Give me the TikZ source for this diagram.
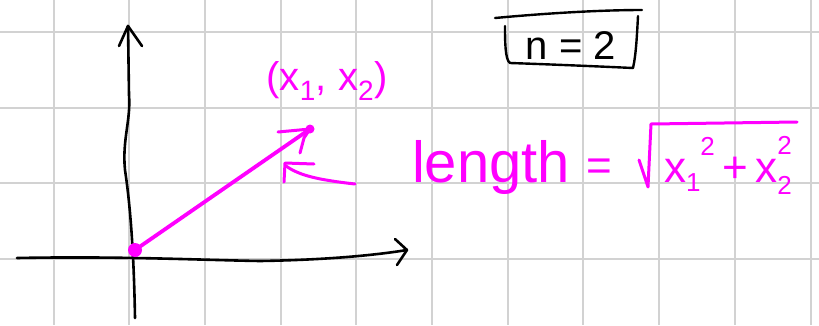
\documentclass[tikz,border=0pt]{standalone}
\usepackage{fontspec}
\setmainfont{Liberation Sans}
\definecolor{mag}{HTML}{FF00FF}
\definecolor{gridc}{HTML}{D2D2D2}
\newcommand{\scr}[1]{{\fontsize{26}{26}\selectfont #1}}
\begin{document}
\begin{tikzpicture}[x=1pt,y=-1pt,
  axis/.style={black,line width=2.6pt,line cap=round,line join=round},
  vec/.style={mag,line width=3.8pt,line cap=round,line join=round},
  ink/.style={inner sep=0pt,outer sep=0pt},
  lbl/.style={ink,text=mag}]
\useasboundingbox (0,0) rectangle (819,325);
\fill[white] (0,0) rectangle (819,325);
% grid
\foreach \gx in {53.5,129.2,204.9,280.6,356.3,432,507.7,583.4,659.1,734.8,810.5}
  \draw[gridc,line width=2pt] (\gx,0) -- (\gx,325);
\foreach \gy in {32,107.5,183,258.5}
  \draw[gridc,line width=2pt] (0,\gy) -- (819,\gy);
% axes
\coordinate (ytop) at (128,26);
\coordinate (ybot) at (135,318);
\coordinate (xl) at (17,258);
\coordinate (xr) at (407,250);
\draw[axis] (ybot) .. controls (134,260) and (131,210) .. (125,170)
  .. controls (122,140) and (131,120) .. (129,95) -- (ytop);
\draw[axis] (119,46) -- (ytop) -- (142,46);
\draw[axis] (xl) .. controls (120,256) and (200,260) .. (260,261)
  .. controls (320,260) and (370,256) .. (xr);
\draw[axis] (395,239) -- (xr) -- (397,265);
% vector
\coordinate (O) at (135,250);
\coordinate (P) at (310,129);
\draw[vec] (O) -- (P);
\fill[mag] (O) circle (7);
\fill[mag] (P) circle (4.5);
\draw[vec,line width=3pt] (278,132) -- (P);
\draw[vec,line width=3pt] (300,153) -- (304,138) -- (P);
% point label
\node[lbl,font=\fontsize{40}{40}\selectfont,anchor=base] (pt) at (327,90) {(x\textsubscript{1}, x\textsubscript{2})};
% pointer arrow
\coordinate (ptrS) at (355,184);
\coordinate (ptrT) at (286,166);
\draw[vec,line width=3pt] (ptrS) .. controls (320,180) and (300,176) .. (ptrT);
\draw[vec,line width=3pt] (314,164) -- (285,163) -- (284,182);
% length formula
\node[lbl,font=\fontsize{58}{58}\selectfont,anchor=base west] (len) at (412,182) {length};
\node[lbl,font=\fontsize{44}{44}\selectfont,anchor=base west] (eq) at (586,180) {=};
\node[lbl,font=\fontsize{44}{44}\selectfont,anchor=base west] (sq) at (664,182)
  {x\raisebox{-0.22em}{\scr{1}}\raisebox{0.6em}{\scr{2}}\,+\,x\rlap{\raisebox{0.62em}{\scr{2}}}\raisebox{-0.28em}{\scr{2}}};
\draw[vec,line width=3pt] (639,160) -- (648,187) -- (651,124) -- (797,122);
% n = 2 box
\node[ink,font=\fontsize{40}{40}\selectfont,anchor=base] (n) at (571,59) {n = 2};
\draw[axis,line width=2.4pt] (495,18) .. controls (560,12) and (610,10) .. (642,10);
\draw[axis,line width=2.4pt] (638,16) .. controls (637,35) and (636,55) .. (633,68);
\draw[axis,line width=2.4pt] (633,68) .. controls (590,66) and (540,64) .. (510,63)
  .. controls (505,60) and (505,40) .. (505,26);
\end{tikzpicture}
\end{document}
